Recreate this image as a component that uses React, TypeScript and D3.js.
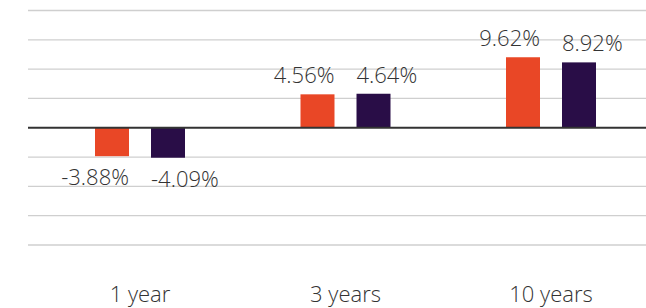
import React from "react";
import * as d3 from "d3";

const categories = ["1 year", "3 years", "10 years"];
const seriesNames = ["Fund", "Benchmark"];
const fundValues = [-3.88, 4.56, 9.62];
const benchmarkValues = [-4.09, 4.64, 8.92];
const gridTicks = [-16, -12, -8, -4, 0, 4, 8, 12, 16];

const W = 646;
const H = 308;
const colors = ["#E94726", "#290D47"];
const FONT = "'Open Sans', sans-serif";

export default function App() {
  const x = d3.scaleBand<string>().domain(categories).range([37.25, 653.75]).padding(0);
  const inner = d3
    .scaleBand<string>()
    .domain(seriesNames)
    .range([-45, 45])
    .paddingInner(0.393)
    .paddingOuter(0);
  const y = d3.scaleLinear().domain([-16, 16]).range([245, 10.5]);
  const seriesValues = [fundValues, benchmarkValues];
  const fmt = (v: number) => v.toFixed(2) + "%";

  return (
    <div style={{ position: "fixed", left: 0, top: 0 }}>
      <svg width={W} height={H} style={{ display: "block" }}>
        <rect x={0} y={0} width={W} height={H} fill="#fff" />
        {gridTicks
          .filter((t) => t !== 0)
          .map((t) => (
            <line key={t} x1={28} x2={W} y1={y(t)} y2={y(t)} stroke="#cfcfcf" strokeWidth={1.3} />
          ))}
        {categories.map((c, i) => {
          const cx = (x(c) as number) + x.bandwidth() / 2;
          return (
            <g key={c}>
              {seriesNames.map((s, j) => {
                const v = seriesValues[j][i];
                const bx = cx + (inner(s) as number);
                const bw = inner.bandwidth();
                const y0 = y(0);
                const yv = y(v);
                const top = Math.min(y0, yv);
                const h = Math.abs(yv - y0);
                const anchor = j === 0 ? "end" : "start";
                const tx = j === 0 ? bx + bw : bx;
                const ty = v >= 0 ? yv - 11 : yv + 29;
                return (
                  <g key={s}>
                    <rect x={bx} y={top} width={bw} height={h} fill={colors[j]} />
                    <text
                      x={tx}
                      y={ty}
                      textAnchor={anchor}
                      fontFamily={FONT}
                      fontWeight={300}
                      fontSize={22}
                      fill="#333"
                    >
                      {fmt(v)}
                    </text>
                  </g>
                );
              })}
              <text
                x={cx}
                y={302}
                textAnchor="middle"
                fontFamily={FONT}
                fontWeight={300}
                fontSize={22}
                fill="#333"
              >
                {c}
              </text>
            </g>
          );
        })}
        <line x1={28} x2={W} y1={y(0)} y2={y(0)} stroke="#333" strokeWidth={2} />
      </svg>
    </div>
  );
}
